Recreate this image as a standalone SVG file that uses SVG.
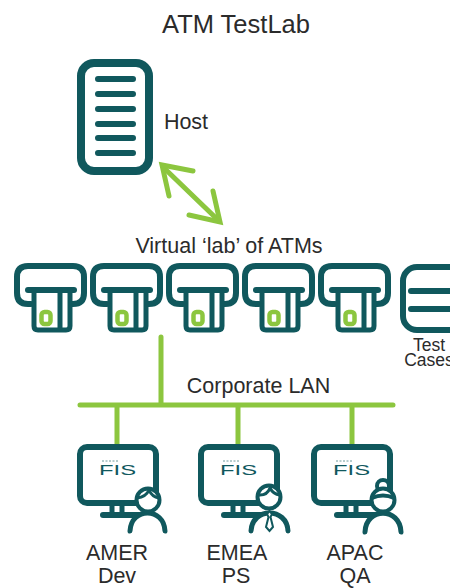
<svg xmlns="http://www.w3.org/2000/svg" width="450" height="588" viewBox="0 0 450 588">
<style>
text{font-family:"Liberation Sans",Arial,sans-serif;font-size:21.500px;fill:#2b2b2b;text-anchor:middle}
.t{fill:none;stroke:#10585d;stroke-linecap:round;stroke-linejoin:round}
.g{fill:none;stroke:#8cc63f;stroke-linecap:round;stroke-linejoin:miter}
.fis{font-size:15px;fill:#10585d}
.w{fill:#fff;stroke:#10585d;stroke-linecap:round;stroke-linejoin:round}
</style>
<defs>
<g id="atm">
<path class="t" stroke-width="6" d="M17 44H14Q3 44 3 33V17Q3 6 14 6H59Q70 6 70 17V33Q70 44 59 44H57"/>
<path class="t" stroke-width="6" d="M14 30H60"/>
<path class="t" stroke-width="5" d="M20 30V66Q20 70 24 70H52Q56 70 56 66V30M46 30V69"/>
<rect x="27.500" y="52" width="9" height="12" rx="3" fill="none" stroke="#8cc63f" stroke-width="4.500"/>
</g>
<g id="mon">
<rect class="t" x="3" y="3" width="76" height="56" rx="7" stroke-width="6"/>
<path class="t" stroke-width="5" d="M35 60V71M45 60V71"/>
<path class="t" stroke-width="6" d="M26 71H64"/>
<text class="fis" x="40.500" y="31" textLength="37" lengthAdjust="spacingAndGlyphs">FIS</text>
<path d="M25 17H41" stroke="#10585d" stroke-width="1" stroke-dasharray="2 1.500" opacity=".6"/>
</g>
</defs>

<text x="236" y="33" style="font-size:25.500px">ATM TestLab</text>

<g id="host">
<rect class="t" x="81" y="63" width="68" height="108" rx="13" stroke-width="8"/>
<path class="t" stroke-width="6" d="M98 79H133M98 94H133M98 109H133M98 124H133M98 138H133M98 153H133"/>
<text x="186" y="129">Host</text>
</g>

<g id="connectors">
<path class="g" stroke-width="5" d="M163 167L218 220"/>
<path class="g" stroke-width="5" d="M193 171L162 165L169 196"/>
<path class="g" stroke-width="5" d="M189 215L220 222L213 191"/>
<path class="g" stroke-width="5" d="M161 337V405M80 405H393M117 405V445M238 405V445M352 405V445"/>
</g>

<text id="lab-label" x="229" y="253">Virtual ‘lab’ of ATMs</text>
<g id="atm1"><use href="#atm" x="14" y="260"/></g>
<g id="atm2"><use href="#atm" x="90" y="260"/></g>
<g id="atm3"><use href="#atm" x="166" y="260"/></g>
<g id="atm4"><use href="#atm" x="242" y="260"/></g>
<g id="atm5"><use href="#atm" x="318" y="260"/></g>

<g id="test-cases">
<rect class="t" x="403" y="267" width="60" height="63" rx="14" stroke-width="6"/>
<path class="t" stroke-width="6" d="M411 291H460M411 309H460"/>
<text x="429" y="351" style="font-size:17.500px">Test</text>
<text x="429" y="366" style="font-size:17.500px">Cases</text>
</g>

<text id="lan-label" x="258.500" y="393">Corporate LAN</text>

<g id="amer">
<use href="#mon" x="77" y="444"/>
<path class="w" stroke-width="5" d="M130 531C131 507 164 507 165 531"/>
<circle cx="148" cy="500" r="11.500" fill="#fff" stroke="#10585d" stroke-width="4"/>
<path class="t" stroke-width="3" d="M137 498Q146 497 149 490Q152 497 159 498"/>
<text x="117" y="560">AMER</text>
<text x="117" y="583">Dev</text>
</g>

<g id="emea">
<use href="#mon" x="198" y="444"/>
<path class="w" stroke-width="5" d="M251 531C252 507 287 507 288 531"/>
<circle cx="269" cy="497" r="11.500" fill="#fff" stroke="#10585d" stroke-width="4"/>
<path class="t" stroke-width="3" d="M258 495Q267 496 270 488Q273 494 280 495"/>
<path d="M269.500 511L267 514L268.500 517L266 527L269.500 531L273 527L270.500 517L272 514Z" fill="#fff" stroke="#10585d" stroke-width="2"/>
<text x="237" y="560">EMEA</text>
<text x="236" y="583">PS</text>
</g>

<g id="apac">
<use href="#mon" x="311" y="444"/>
<path class="w" stroke-width="5" d="M365 532C366 507 400 507 401 532"/>
<circle cx="383" cy="486" r="6" fill="#fff" stroke="#10585d" stroke-width="4"/>
<circle cx="383" cy="500" r="11.500" fill="#fff" stroke="#10585d" stroke-width="4"/>
<path class="t" stroke-width="4" d="M372 498Q383 493 394 498"/>
<text x="355" y="560">APAC</text>
<text x="355" y="583">QA</text>
</g>
</svg>
